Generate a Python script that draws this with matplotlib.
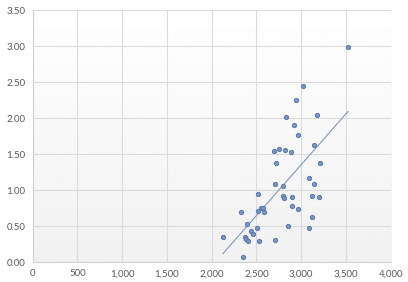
import numpy as np
import matplotlib
matplotlib.use('Agg')
import matplotlib.pyplot as plt
from matplotlib.ticker import FuncFormatter

# scatter values
x_vals = [3522, 3020, 2942, 3180, 2834, 2920, 2968, 3139, 2696, 2756,
          2815, 2882, 2715, 3210, 3083, 2707, 2793, 3139, 2521, 2793,
          2804, 2901, 3120, 3195, 2324, 2517, 2555, 2573, 2588, 2901,
          2964, 2391, 3120, 2503, 2856, 3083, 2127, 2439, 2462, 2372,
          2384, 2402, 2529, 2707, 2354]
y_vals = [2.98, 2.45, 2.25, 2.05, 2.02, 1.90, 1.77, 1.625, 1.55, 1.574,
          1.564, 1.527, 1.375, 1.379, 1.166, 1.092, 1.064, 1.092, 0.953, 0.925,
          0.897, 0.907, 0.925, 0.907, 0.694, 0.712, 0.75, 0.758, 0.703, 0.782,
          0.736, 0.536, 0.633, 0.476, 0.508, 0.476, 0.351, 0.43, 0.389, 0.351,
          0.324, 0.296, 0.292, 0.31, 0.069]
x_ticks = [0, 500, 1000, 1500, 2000, 2500, 3000, 3500, 4000]
y_ticks = [0, 0.5, 1.0, 1.5, 2.0, 2.5, 3.0, 3.5]

plt.rcParams['font.family'] = ['Lato', 'DejaVu Sans']

fig = plt.figure(figsize=(4.08, 2.82), dpi=100)
ax = fig.add_axes([0.0797, 0.0699, 0.878, 0.8946])

# soft vertical gradient like the Excel plot area
grad = np.linspace(0.945, 1.0, 256).reshape(-1, 1)
ax.imshow(grad, extent=[0, 4000, 0, 3.5], aspect='auto', cmap='gray',
          vmin=0, vmax=1, origin='lower', zorder=0)

x = np.array(x_vals)
y = np.array(y_vals)
ax.scatter(x, y, s=10, color='#7893c6', edgecolors='#5573aa', linewidths=0.6, zorder=3)

# linear trendline
k, b = np.polyfit(x, y, 1)
tx = np.array([x.min(), x.max()])
ax.plot(tx, k * tx + b, color='#8497bb', linewidth=0.8, zorder=2)

ax.set_xlim(0, 4000)
ax.set_ylim(0, 3.5)
ax.set_xticks(x_ticks)
ax.set_yticks(y_ticks)
ax.xaxis.set_major_formatter(FuncFormatter(lambda v, p: f'{int(v):,}'))
ax.yaxis.set_major_formatter(FuncFormatter(lambda v, p: f'{v:.2f}'))
ax.grid(True, color='#dcdcdc', linewidth=0.8, zorder=1)
ax.set_axisbelow(True)
for s in ['top', 'right']:
    ax.spines[s].set_visible(False)
for s in ['left', 'bottom']:
    ax.spines[s].set_color('#d0d0d0')
    ax.spines[s].set_linewidth(0.8)
ax.tick_params(length=0, labelsize=7, colors='#595959', pad=5)

fig.savefig('out.png', dpi=100)
